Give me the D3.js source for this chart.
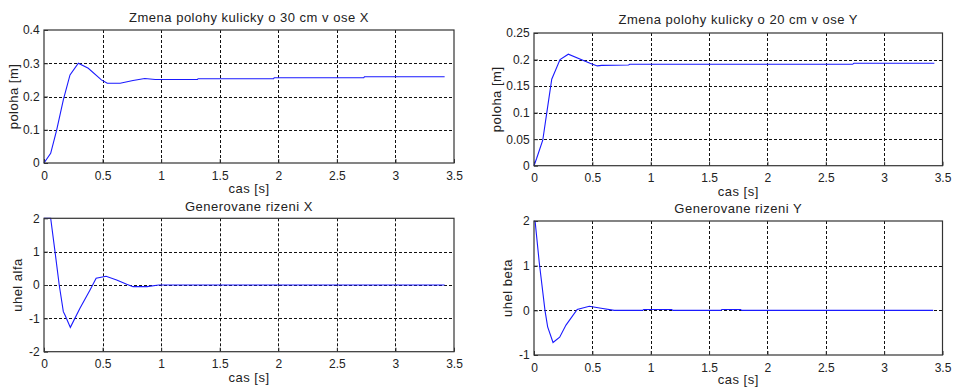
<!DOCTYPE html>
<html><head><meta charset="utf-8">
<script src="https://cdn.jsdelivr.net/npm/d3@7"></script>
<style>
html,body{margin:0;padding:0;background:#fff;}
svg{display:block;font-family:"Liberation Sans",Arial,Helvetica,sans-serif;}
</style></head>
<body><svg id="c" width="953" height="387"></svg>
<script>
// ---- data ----
const xTicks = [0, 0.5, 1, 1.5, 2, 2.5, 3, 3.5];
const posXTicks = [0, 0.1, 0.2, 0.3, 0.4];
const posYTicks = [0, 0.05, 0.1, 0.15, 0.2, 0.25];
const uXTicks = [-2, -1, 0, 1, 2];
const uYTicks = [-1, 0, 1, 2];

const posX_t = [0, 0.057, 0.108, 0.165, 0.222, 0.293, 0.378, 0.49, 0.54, 0.65, 0.76, 0.86, 0.95, 1.31, 1.315, 1.96, 1.965, 2.73, 2.735, 3.42];
const posX_v = [0, 0.029, 0.099, 0.19, 0.265, 0.30, 0.285, 0.25, 0.24, 0.24, 0.248, 0.254, 0.251, 0.251, 0.2535, 0.2535, 0.2566, 0.2566, 0.2596, 0.2596];

const posY_t = [0, 0.023, 0.075, 0.109, 0.152, 0.223, 0.294, 0.48, 0.542, 0.58, 0.81, 0.82, 2.73, 2.74, 3.43];
const posY_v = [0, 0.014, 0.048, 0.099, 0.163, 0.2, 0.21, 0.193, 0.188, 0.189, 0.1897, 0.191, 0.191, 0.1929, 0.1929];

const uX_t = [0, 0.057, 0.094, 0.13, 0.165, 0.179, 0.225, 0.307, 0.393, 0.445, 0.53, 0.62, 0.706, 0.76, 0.88, 0.98, 3.42];
const uX_v = [2, 2, 1.0, 0, -0.8, -0.9, -1.27, -0.7, -0.15, 0.2, 0.26, 0.15, 0.02, -0.05, -0.05, 0, 0];

const uY_t = [0, 0.01, 0.045, 0.094, 0.117, 0.163, 0.22, 0.274, 0.37, 0.474, 0.575, 0.688, 0.93, 0.94, 1.18, 1.19, 1.6, 1.61, 1.77, 1.78, 3.42];
const uY_v = [2, 1.98, 1.07, 0, -0.37, -0.72, -0.6, -0.33, 0.02, 0.09, 0.045, 0, 0, 0.02, 0.02, 0, 0, 0.02, 0.02, 0, 0];

const titles = ["Zmena polohy kulicky o 30 cm v ose X", "Zmena polohy kulicky o 20 cm v ose Y", "Generovane rizeni X", "Generovane rizeni Y"];
const yLabels = ["poloha  [m]", "poloha  [m]", "uhel alfa", "uhel beta"];
const xLabel = "cas [s]";

// ---- layout ----
const panels = [
  {box:[44,454,30,163], yDom:[0,0.4], yT:posXTicks, t:posX_t, v:posX_v, title:titles[0], titleY:21.5, yl:yLabels[0], ylX:18, xlY:193},
  {box:[534,942.5,33,165.7], yDom:[0,0.25], yT:posYTicks, t:posY_t, v:posY_v, title:titles[1], titleY:24, yl:yLabels[1], ylX:501, xlY:196},
  {box:[44,454,218.3,351.7], yDom:[-2,2], yT:uXTicks, t:uX_t, v:uX_v, title:titles[2], titleY:211, yl:yLabels[2], ylX:22, xlY:382},
  {box:[534,942.5,221,355], yDom:[-1,2], yT:uYTicks, t:uY_t, v:uY_v, title:titles[3], titleY:213, yl:yLabels[3], ylX:512, xlY:384}
];

const svg = d3.select("#c");
const txt = "#222";
const labFont = "13px", tickFont = "12px", ls = "0.5px";

panels.forEach(p => {
  const [x0,x1,y0,y1] = p.box;
  const x = d3.scaleLinear().domain([0,3.5]).range([x0,x1]);
  const y = d3.scaleLinear().domain(p.yDom).range([y1,y0]);
  const g = svg.append("g");

  // grid
  g.selectAll(".gx").data(xTicks.filter(d => d>0 && d<3.5)).enter().append("line")
    .attr("x1", d => Math.round(x(d))+0.5).attr("x2", d => Math.round(x(d))+0.5)
    .attr("y1", y0).attr("y2", y1)
    .attr("stroke","#111").attr("stroke-width",1).attr("stroke-dasharray","3,2");
  g.selectAll(".gy").data(p.yT.filter(d => d>p.yDom[0] && d<p.yDom[1])).enter().append("line")
    .attr("y1", d => Math.round(y(d))+0.5).attr("y2", d => Math.round(y(d))+0.5)
    .attr("x1", x0).attr("x2", x1)
    .attr("stroke","#111").attr("stroke-width",1).attr("stroke-dasharray","3,2");

  // axes (ticks inward)
  const ax = d3.axisBottom(x).tickValues(xTicks).tickSize(-4).tickPadding(8).tickFormat(d => String(d));
  const ay = d3.axisLeft(y).tickValues(p.yT).tickSize(-4).tickPadding(8).tickFormat(d => String(d));
  const gx = g.append("g").attr("transform",`translate(0,${y1})`).call(ax);
  const gy = g.append("g").attr("transform",`translate(${x0},0)`).call(ay);
  [gx,gy].forEach(a => {
    a.select(".domain").remove();
    a.selectAll("line").attr("stroke","#333");
    a.selectAll("text").attr("fill",txt).style("font-size",tickFont);
  });
  gy.selectAll("text").attr("dx","0.3em");

  // line
  const line = d3.line().x((d,i) => x(p.t[i])).y(d => y(d));
  g.append("path").datum(p.v).attr("d", line)
    .attr("fill","none").attr("stroke","#1a1aff").attr("stroke-width",1.1);

  // box
  g.append("rect").attr("x",x0).attr("y",y0).attr("width",x1-x0).attr("height",y1-y0)
    .attr("fill","none").attr("stroke","#333").attr("stroke-width",1.2);

  // labels
  g.append("text").attr("x",(x0+x1)/2).attr("y",p.titleY).attr("text-anchor","middle")
    .attr("fill",txt).style("font-size",labFont).style("letter-spacing",ls).text(p.title);
  g.append("text").attr("x",(x0+x1)/2).attr("y",p.xlY).attr("text-anchor","middle")
    .attr("fill",txt).style("font-size",labFont).style("letter-spacing",ls).text(xLabel);
  g.append("text").attr("transform",`translate(${p.ylX},${(y0+y1)/2}) rotate(-90)`).attr("text-anchor","middle")
    .attr("fill",txt).style("font-size",labFont).style("letter-spacing",ls).text(p.yl);
});
</script></body></html>
